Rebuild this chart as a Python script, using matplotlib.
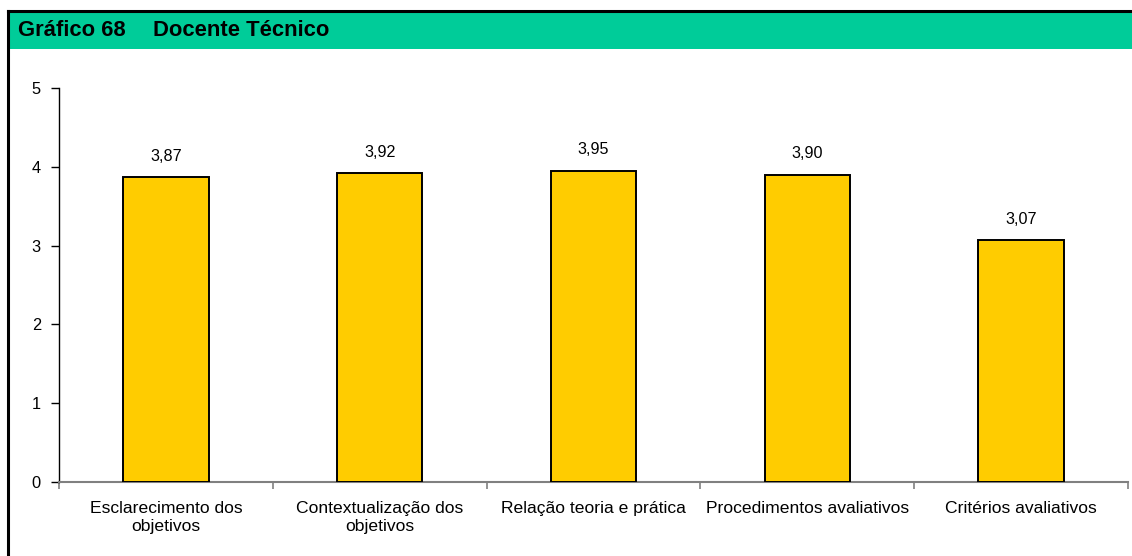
import matplotlib.pyplot as plt
from matplotlib.lines import Line2D
from matplotlib.patches import Rectangle

categories = ["Esclarecimento dos\nobjetivos", "Contextualização dos\nobjetivos",
              "Relação teoria e prática", "Procedimentos avaliativos",
              "Critérios avaliativos"]
values = [3.87, 3.92, 3.95, 3.90, 3.07]
value_labels = ["3,87", "3,92", "3,95", "3,90", "3,07"]
y_ticks = [0, 1, 2, 3, 4, 5]

plt.rcParams['font.family'] = ['Liberation Sans', 'DejaVu Sans']

W, H = 1132, 556
fig = plt.figure(figsize=(W / 100, H / 100), dpi=100)

# header band and frame
fig.patches.append(Rectangle((9 / W, 1 - 49 / H), 1, 37 / H, transform=fig.transFigure,
                             facecolor="#00CC99", edgecolor="none"))
fig.lines.append(Line2D([8 / W, 1], [1 - 11 / H, 1 - 11 / H], transform=fig.transFigure,
                        color="black", lw=2.2))
fig.lines.append(Line2D([8 / W, 8 / W], [0, 1 - 11 / H], transform=fig.transFigure,
                        color="black", lw=2.2))
fig.text(18 / W, 1 - 31 / H, "Gráfico 68", fontsize=15.8, fontweight="bold", va="center")
fig.text(153 / W, 1 - 31 / H, "Docente Técnico", fontsize=15.8, fontweight="bold", va="center")

ax = fig.add_axes([59 / W, 1 - 482 / H, (1128 - 59) / W, (482 - 88) / H])
x = list(range(len(categories)))
ax.bar(x, values, width=0.4, color="#FFCC00", edgecolor="black", linewidth=1.4, zorder=3)
for xi, v, lab in zip(x, values, value_labels):
    ax.annotate(lab, (xi, v), xytext=(0, 15), textcoords="offset points",
                ha="center", va="center", fontsize=11.6)

ax.set_xlim(-0.5, len(categories) - 0.5)
ax.set_ylim(0, 5)
ax.set_yticks(y_ticks)
ax.set_yticklabels([str(t) for t in y_ticks], fontsize=11.8)
ax.set_xticks(x)
ax.set_xticklabels(categories, fontsize=12.6, linespacing=1.25)
ax.set_xticks([i - 0.5 for i in range(len(categories) + 1)], minor=True)
ax.tick_params(axis="x", which="major", length=0, pad=14)
ax.tick_params(axis="x", which="minor", length=5, color="#808080", width=1.2)
ax.tick_params(axis="y", length=6, pad=7, color="black", width=1)

for s in ["top", "right"]:
    ax.spines[s].set_visible(False)
ax.spines["bottom"].set_color("#808080")
ax.spines["bottom"].set_linewidth(1.5)
ax.spines["left"].set_color("black")
ax.spines["left"].set_linewidth(1)

fig.savefig("out.png", dpi=100)
